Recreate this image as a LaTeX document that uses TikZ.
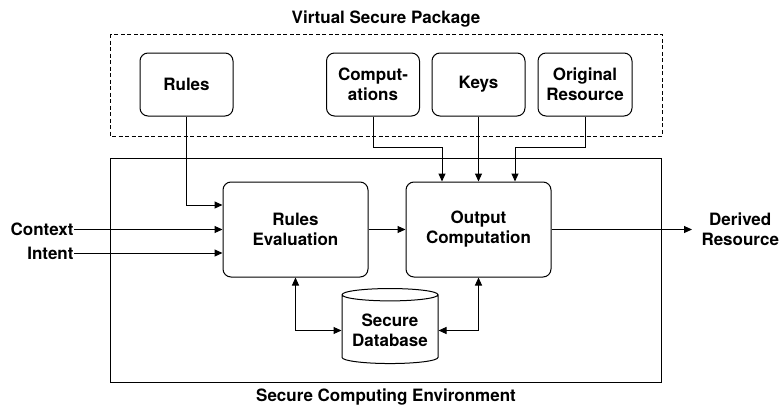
\documentclass[tikz,border=0pt]{standalone}
\usepackage{fontspec}
\setmainfont{TeX Gyre Heros}
\usetikzlibrary{arrows.meta,shapes.geometric}

\begin{document}
\begin{tikzpicture}[x=1pt,y=-1pt,
		line width=1pt,
		>={Triangle[length=8pt,width=7pt]},
		font=\fontsize{17}{20}\selectfont\bfseries,
		pkgbox/.style={draw, rounded corners=8pt, minimum width=93pt, minimum height=63pt, align=center},
		procbox/.style={draw, rounded corners=8pt, minimum width=145pt, minimum height=95pt, align=center},
		txt/.style={align=center, inner sep=0pt}]
		\useasboundingbox (0,0) rectangle (781,407);
		%virtual secure package
		\node[txt] (pkgtitle) at (386,19) {Virtual Secure Package};
		\draw[dash pattern=on 4pt off 2.5pt] (110,34) rectangle (662,136);
		\node[pkgbox] (rules) at (186.5,84.5) {Rules};
		\node[pkgbox] (comp) at (373,84.5) {Comput-\\ations};
		\node[pkgbox] (keys) at (478.5,84.5) {Keys};
		\node[pkgbox, minimum width=94pt] (orig) at (585,84.5) {Original\\Resource};
		%secure computing environment
		\draw (110,158) rectangle (661,382);
		\node[txt] (envtitle) at (386,397) {Secure Computing Environment};
		\node[procbox] (ruleseval) at (295.5,229.5) {Rules\\Evaluation};
		\node[procbox] (output) at (478.5,229.5) {Output\\Computation};
		\node[draw, cylinder, shape border rotate=90, aspect=0.15, minimum width=96pt, minimum height=75pt, align=center] (db) at (390,330.5) {Secure\\Database};
		%inputs and derived resource
		\node[txt, anchor=east] (context) at (74,229.5) {Context};
		\node[txt, anchor=east] (intent) at (74,253) {Intent};
		\node[txt, inner xsep=9pt, anchor=west] (derived) at (692,229.5) {Derived\\Resource};
		\coordinate (joinL) at (442,147);
		\coordinate (joinR) at (515,147);
		%arrows into the boxes
		\draw[->] (context.east) -- (ruleseval.west |- context.east);
		\draw[->] (intent.east) -- (ruleseval.west |- intent.east);
		\draw[->] (rules.south) |- (ruleseval.west |- 0,205);
		\draw[->] (comp.south) |- (joinL) -- (joinL |- output.north);
		\draw[->] (keys) -- (output);
		\draw[->] (orig.south) |- (joinR) -- (joinR |- output.north);
		\draw[->] (ruleseval) -- (output);
		\draw[->] (output) -- (derived);
		%database links
		\draw[<->] (ruleseval.south) |- (db.west);
		\draw[<->] (output.south) |- (db.east);
	\end{tikzpicture}
\end{document}
